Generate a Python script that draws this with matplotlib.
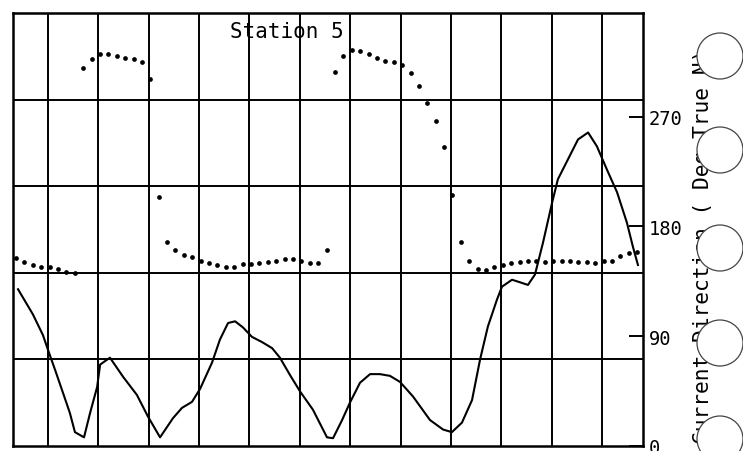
import numpy as np
import matplotlib
matplotlib.use("Agg")
import matplotlib.pyplot as plt
from matplotlib.patches import Ellipse

# Current direction, one reading every 20 minutes (degrees true north)
DIR_START_HOUR = -1.27
direction_deg = [
    154, 151, 148, 147, 146.5, 145, 143, 141.5, 309.5, 317,
    321, 321, 320, 318, 317, 314.5, 301, 204, 167.5, 161,
    157, 155, 152, 150, 148, 147, 147, 149, 149, 150,
    151, 152, 153, 153, 151.5, 150, 150, 161, 307, 319.5,
    324.5, 323.5, 321, 318.5, 316, 314.5, 312, 306, 295, 281,
    266.5, 245, 206, 167.5, 151.5, 145.5, 144, 147, 148, 150,
    151, 151.5, 151.5, 151, 151.5, 152, 151.5, 151, 151, 150,
    151.5, 152, 155.5, 158, 159,
]
direction_hours = DIR_START_HOUR + np.arange(len(direction_deg)) / 3.0

# Current speed trace (left axis, cm/s)
speed_hours = [
    -1.19, -0.60, -0.20, 0.00, 0.28, 0.60, 0.87, 1.07, 1.43, 1.67,
    1.95, 2.07, 2.46, 2.98, 3.53, 3.97, 4.45, 4.96, 5.32, 5.72,
    6.04, 6.51, 6.83, 7.15, 7.43, 7.74, 8.10, 8.50, 8.90, 9.21,
    9.61, 10.01, 10.52, 11.08, 11.32, 11.68, 11.99, 12.39, 12.79, 13.18,
    13.58, 13.98, 14.50, 15.17, 15.69, 16.04, 16.44, 16.84, 17.16, 17.47,
    17.83, 18.03, 18.43, 18.75, 19.06, 19.34, 19.66, 20.02, 20.25, 20.65,
    21.05, 21.45, 21.80, 22.20, 22.60, 22.99, 23.23, 23.43,
]
speed_cms = [
    18.1, 15.2, 12.8, 11.1, 8.8, 6.1, 3.8, 1.6, 1.0, 3.8,
    6.8, 9.4, 10.2, 8.0, 5.9, 3.4, 1.0, 3.2, 4.4, 5.1,
    6.6, 9.6, 12.3, 14.2, 14.4, 13.7, 12.6, 12.0, 11.3, 10.2,
    8.2, 6.3, 4.2, 1.0, 0.9, 3.0, 5.0, 7.3, 8.3, 8.3,
    8.1, 7.4, 5.7, 3.0, 1.9, 1.6, 2.7, 5.3, 10.0, 13.8,
    16.9, 18.4, 19.2, 18.9, 18.6, 19.8, 23.5, 28.1, 30.8, 33.1,
    35.4, 36.2, 34.6, 31.9, 29.3, 25.8, 23.0, 20.9,
]

grid_hours = list(range(0, 23, 2))
speed_grid = [10, 20, 30, 40]
dir_ticks = [0, 90, 180, 270]

TITLE = "Station 5"
DIR_LABEL = "Current Direction ( Deg True N)"
MONO = "DejaVu Sans Mono"

W, H = 743, 452
fig = plt.figure(figsize=(W / 100, H / 100), dpi=100)
ax = fig.add_axes([13 / W, 1 - 447 / H, 630 / W, 433 / H])

ax.plot(speed_hours, speed_cms, color="black", lw=1.5, zorder=3)
ax.set_xlim(-1.39, 23.63)
ax.set_ylim(0, 50)
for h in grid_hours:
    ax.axvline(h, color="black", lw=1.4, zorder=1)
for s in speed_grid:
    ax.axhline(s, color="black", lw=1.4, zorder=1)
ax.set_xticks([])
ax.set_yticks([])
for sp in ax.spines.values():
    sp.set_linewidth(1.8)

ax2 = ax.twinx()
ax2.plot(direction_hours, direction_deg, "o", color="black", ms=3.4, mew=0)
ax2.set_ylim(0, 355)
ax2.set_yticks(dir_ticks)
ax2.set_yticklabels([str(t) for t in dir_ticks], fontfamily=MONO, fontsize=13.5)
ax2.tick_params(axis="y", direction="in", length=10, width=1.4, pad=4)
for sp in ax2.spines.values():
    sp.set_visible(False)

fig.text(230 / W, 1 - 38 / H, TITLE, fontfamily=MONO, fontsize=15,
         ha="left", va="baseline")
fig.text(703 / W, 1 - 246 / H, DIR_LABEL, fontfamily=MONO, fontsize=15.3,
         rotation=90, ha="center", va="center")

# binder punch holes along the right edge
for cy in [57, 151, 249, 344, 440]:
    fig.patches.append(Ellipse((720 / W, 1 - cy / H), 46 / W, 46 / H,
                               transform=fig.transFigure, facecolor="white",
                               edgecolor="#444444", lw=0.9, zorder=5))

fig.savefig("out.png", dpi=100)
